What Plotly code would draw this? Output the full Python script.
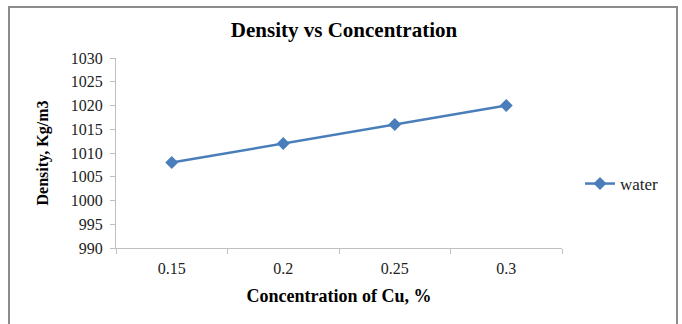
import plotly.graph_objects as go

categories = ["0.15", "0.2", "0.25", "0.3"]
density = [1008, 1012, 1016, 1020]
series_name = "water"

W, H = 682, 324
L, R, T, B = 116, 120, 58, 76
pw, ph = W - L - R, H - T - B

def px(x):
    return (x - L) / pw

def py(y):
    return (H - B - y) / ph

serif = "Times New Roman, Liberation Serif, serif"

fig = go.Figure()
fig.add_trace(go.Scatter(
    x=categories, y=density, name=series_name, mode="lines+markers",
    line=dict(color="#4a7ebb", width=2.5),
    marker=dict(symbol="diamond", size=10, color="#4a7ebb"),
))

fig.update_layout(
    width=W, height=H,
    margin=dict(l=L, r=R, t=T, b=B),
    paper_bgcolor="white", plot_bgcolor="white",
    font=dict(family=serif, color="#222", size=16),
    title=dict(text="<b>Density vs Concentration</b>", x=(344) / W, xanchor="center",
               y=1 - 30 / H, yanchor="middle", font=dict(family=serif, size=21, color="black")),
    showlegend=True,
    legend=dict(x=px(580), y=py(184), xanchor="left", yanchor="middle",
                font=dict(family=serif, size=17, color="#222"), bgcolor="rgba(0,0,0,0)",
                itemwidth=30, tracegroupgap=0),
    shapes=[dict(type="rect", xref="paper", yref="paper",
                 x0=px(9), x1=px(677), y0=py(7), y1=py(340),
                 line=dict(color="#8c8c8c", width=2), layer="below")],
)

fig.update_xaxes(
    type="category", showgrid=False, showline=True, linecolor="#bfbfbf", linewidth=1,
    ticks="outside", tickson="boundaries", ticklen=5, tickcolor="#bfbfbf",
    tickfont=dict(family=serif, size=16, color="#222"), ticklabelstandoff=6,
    range=[-0.5, 3.5], zeroline=False,
    title=dict(text="<b>Concentration of Cu, %</b>", font=dict(family=serif, size=18, color="black"), standoff=13),
)
fig.update_yaxes(
    range=[990, 1030], dtick=5, showgrid=False, showline=True, linecolor="#bfbfbf", linewidth=1,
    ticks="outside", ticklen=5, tickcolor="#bfbfbf", zeroline=False,
    tickfont=dict(family=serif, size=16, color="#222"), ticklabelstandoff=4,
    title=dict(text="<b>Density, Kg/m3</b>", font=dict(family=serif, size=16, color="black"), standoff=18),
)

fig.write_html("out.html")
